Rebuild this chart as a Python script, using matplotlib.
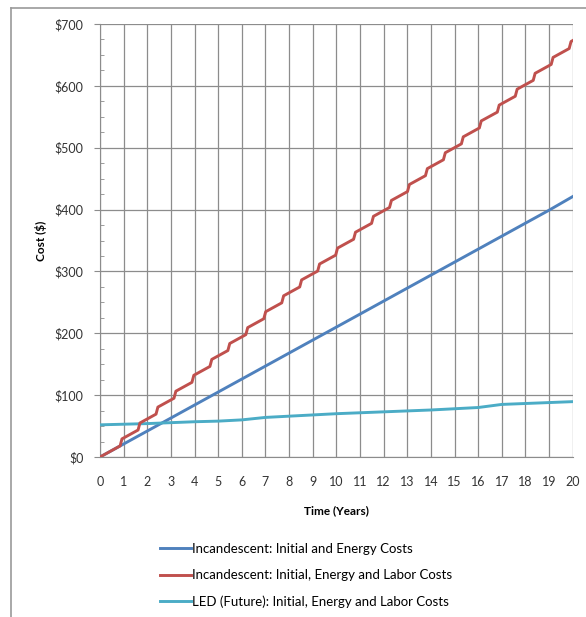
import matplotlib
matplotlib.use("Agg")
import matplotlib.pyplot as plt
from matplotlib.lines import Line2D
from matplotlib.ticker import MultipleLocator, FuncFormatter

plt.rcParams['font.family'] = ['Lato', 'DejaVu Sans']

# Incandescent: initial and energy costs (yearly)
years = list(range(0, 21))
incandescent_energy = [0, 21, 42, 63, 84, 105, 126, 147, 168, 189, 210,
                       231, 252, 273, 294, 315, 336, 357, 378, 399, 421]

# Incandescent with labor: stepped line (lamp replacements)
labor_years = [0, 0.85, 0.93, 1.61, 1.69, 2.37, 2.45, 3.13, 3.21, 3.89, 3.97,
               4.65, 4.73, 5.41, 5.49, 6.17, 6.25, 6.93, 7.01, 7.69, 7.77,
               8.45, 8.53, 9.21, 9.29, 9.97, 10.05, 10.73, 10.81, 11.49, 11.57,
               12.25, 12.33, 13.01, 13.09, 13.77, 13.85, 14.53, 14.61,
               15.29, 15.37, 16.05, 16.13, 16.81, 16.89, 17.57, 17.65,
               18.33, 18.41, 19.09, 19.17, 19.85, 19.93, 20]
labor_cost = [0, 17.9, 29.3, 43.6, 55.0, 69.3, 80.7, 95.0, 106.4, 120.7, 132.1,
              146.4, 157.8, 172.1, 183.5, 197.8, 209.2, 223.5, 234.9, 249.2, 260.6,
              274.9, 286.3, 300.6, 312.0, 326.3, 337.7, 352.0, 363.4, 377.7, 389.1,
              403.4, 414.8, 429.1, 440.5, 454.8, 466.2, 480.5, 491.9,
              506.2, 517.6, 531.9, 543.3, 557.5, 568.9, 583.2, 594.6,
              608.9, 620.3, 634.6, 646.0, 660.3, 671.7, 673.2]

# LED (future)
led_cost = [52, 53, 54, 55.5, 57, 58, 60, 64, 66, 68, 70,
            71.5, 73, 74.5, 76, 78, 80, 85, 86.5, 88, 89.5]

labels = ["Incandescent: Initial and Energy Costs",
          "Incandescent: Initial, Energy and Labor Costs",
          "LED (Future): Initial, Energy and Labor Costs"]
colors = ["#4F81BD", "#C0504D", "#4BACC6"]

fig = plt.figure(figsize=(5.86, 6.17), dpi=100)
ax = fig.add_axes([100 / 586, 1 - 457 / 617, 472.7 / 586, 433 / 617])

ax.plot(years, incandescent_energy, color=colors[0], lw=2.1, zorder=3)
ax.plot(labor_years, labor_cost, color=colors[1], lw=2.1, zorder=4)
ax.plot(years, led_cost, color=colors[2], lw=2.1, zorder=3)

ax.set_xlim(0, 20)
ax.set_ylim(0, 700)
ax.xaxis.set_major_locator(MultipleLocator(1))
ax.yaxis.set_major_locator(MultipleLocator(100))
ax.yaxis.set_minor_locator(MultipleLocator(25))
ax.yaxis.set_major_formatter(FuncFormatter(lambda v, p: f"${v:.0f}"))
ax.grid(True, which='major', color='#8c8c8c', lw=0.9)
ax.set_axisbelow(True)
for side in ['top', 'right']:
    ax.spines[side].set_visible(False)
ax.spines['left'].set_color('#8c8c8c')
ax.spines['bottom'].set_color('#8c8c8c')
ax.tick_params(axis='y', which='major', length=4, color='#8c8c8c',
               labelsize=9, labelcolor='#333333', pad=8)
ax.tick_params(axis='y', which='minor', direction='in', length=3, color='#8c8c8c')
ax.tick_params(axis='x', length=0, labelsize=9, labelcolor='#333333', pad=14)

ax.set_xlabel("Time (Years)", fontsize=8.5, fontweight='bold', labelpad=12)
ax.set_ylabel("Cost ($)", fontsize=8.5, fontweight='bold', labelpad=5)

handles = [Line2D([], [], color=c, lw=2.1) for c in colors]
fig.legend(handles, labels, loc='upper left',
           bbox_to_anchor=(148.5 / 586, 1 - 531 / 617), frameon=False,
           fontsize=9.5, handlelength=2.3, handletextpad=0.1, labelspacing=1.08)

# outer chart frame (top and left edges)
fig.add_artist(Line2D([11 / 586, 1], [1 - 8 / 617, 1 - 8 / 617],
                      transform=fig.transFigure, color='#9a9a9a', lw=1.2))
fig.add_artist(Line2D([11 / 586, 11 / 586], [0, 1 - 8 / 617],
                      transform=fig.transFigure, color='#9a9a9a', lw=1.2))

fig.savefig("out.png", dpi=100)
